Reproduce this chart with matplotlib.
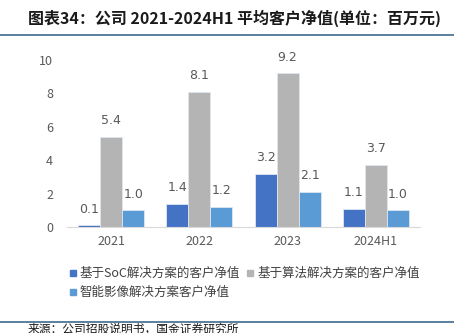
import numpy as np
import matplotlib
matplotlib.use('Agg')
import matplotlib.pyplot as plt
from matplotlib.lines import Line2D

plt.rcParams['font.family'] = ['Noto Sans CJK SC', 'DejaVu Sans']

# data
periods = ['2021', '2022', '2023', '2024H1']
soc = [0.1, 1.4, 3.2, 1.1]
algo = [5.4, 8.1, 9.2, 3.7]
imaging = [1.0, 1.2, 2.1, 1.0]
names = ['基于SoC解决方案的客户净值', '基于算法解决方案的客户净值', '智能影像解决方案客户净值']
colors = ['#4472C4', '#B4B4B4', '#5B9BD5']

fig = plt.figure(figsize=(4.54, 3.33), dpi=100)
ax = fig.add_axes([67/454, 1 - 227/333, 353/454, 167/333])

x = np.arange(len(periods))
w = 0.25
for k, (vals, c) in enumerate(zip([soc, algo, imaging], colors)):
    bars = ax.bar(x + (k - 1) * w, vals, w, color=c, edgecolor='#DDE6F2', linewidth=0.6)
    for b, v in zip(bars, vals):
        ax.annotate('%.1f' % v, (b.get_x() + b.get_width() / 2, v), xytext=(0, 7),
                    textcoords='offset points', ha='center', va='bottom',
                    fontsize=9, color='#595959', family='DejaVu Sans')

ax.set_xlim(-0.5, 3.5)
ax.set_ylim(0, 10)
ax.set_yticks([0, 2, 4, 6, 8, 10])
ax.set_xticks(x)
ax.set_xticklabels(periods)
for s in ['top', 'right', 'left']:
    ax.spines[s].set_visible(False)
ax.spines['bottom'].set_color('#D9D9D9')
ax.tick_params(length=0, labelsize=9, colors='#595959', pad=6)
ax.tick_params(axis='y', pad=10)

# legend (column-major fill, so reorder to get rows: soc, algo / imaging)
handles = [Line2D([], [], marker='s', ls='', color=c, markersize=5) for c in colors]
order = [0, 2, 1]
fig.legend([handles[i] for i in order], [names[i] for i in order],
           loc='upper left', bbox_to_anchor=(55/454, 1 - 256/333),
           ncol=2, frameon=False, fontsize=9, labelcolor='#404040',
           handletextpad=0.1, columnspacing=0.3, labelspacing=0.45, handlelength=1)

# title and frame lines
fig.text(28/454, 1 - 18/333, '图表34：公司 2021-2024H1 平均客户净值(单位：百万元)',
         fontsize=11.5, fontweight='bold', style='italic', va='center', color='#1a1a1a')
fig.add_artist(Line2D([0, 1], [1 - 35/333] * 2, color='#3F6A8F', lw=1.2))
fig.add_artist(Line2D([0, 1], [1 - 322/333] * 2, color='#3F6A8F', lw=1.2))
fig.text(28/454, 1 - 329/333, '来源：公司招股说明书，国金证券研究所', fontsize=8.5,
         va='center', color='#1a1a1a')

fig.savefig('out.png', dpi=100)
